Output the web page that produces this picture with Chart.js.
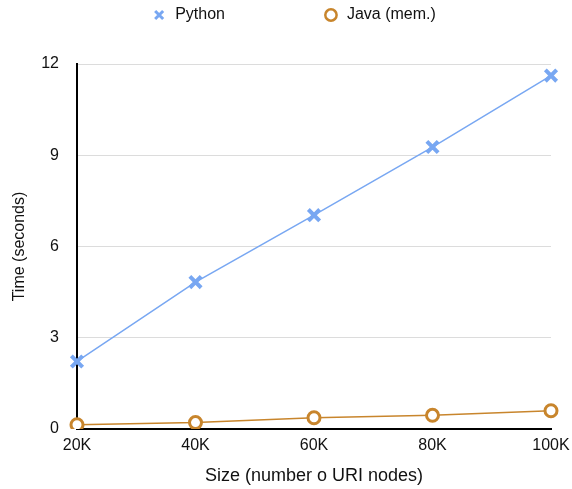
<!DOCTYPE html>
<html>
<head>
<meta charset="utf-8">
<script src="https://cdn.jsdelivr.net/npm/chart.js@4/dist/chart.umd.min.js"></script>
<style>
  html, body { margin: 0; padding: 0; background: #fff; }
  #wrap { width: 572px; height: 489px; position: relative; }
</style>
</head>
<body>
<div id="wrap"><canvas id="c" width="572" height="489"></canvas></div>
<script>
const categories = ['20K', '40K', '60K', '80K', '100K'];
const pythonTimes = [2.22, 4.83, 7.03, 9.27, 11.62];
const javaMemTimes = [0.14, 0.21, 0.37, 0.45, 0.60];
const yTicks = [0, 3, 6, 9, 12];

const BLUE = '#78a7f2';
const ORANGE = '#c8852c';
const FONT = 'Liberation Sans, Arial, Helvetica, sans-serif';

const LEGEND_PAD = 98;
const legendTweak = {
  id: 'legendTweak',
  beforeInit(chart) {
    const lg = chart.legend;
    if (lg && !lg._patched) {
      const orig = lg.fit.bind(lg);
      lg.fit = function () { orig(); this.height = 64 + 91; };
      lg._patched = true;
    }
  },
  afterLayout(chart) {
    const lg = chart.legend;
    lg.left += 18; lg.right += 18;
  }
};

new Chart(document.getElementById('c'), {
  type: 'line',
  data: {
    labels: categories,
    datasets: [
      {
        label: 'Python',
        data: pythonTimes,
        borderColor: BLUE,
        backgroundColor: BLUE,
        borderWidth: 1.5,
        pointStyle: 'crossRot',
        pointRadius: 8,
        pointBorderWidth: 4,
        pointHoverRadius: 8,
        tension: 0
      },
      {
        label: 'Java (mem.)',
        data: javaMemTimes,
        borderColor: ORANGE,
        backgroundColor: '#ffffff',
        borderWidth: 1.5,
        pointStyle: 'circle',
        pointRadius: 6,
        pointBorderWidth: 3,
        pointHoverRadius: 6,
        tension: 0
      }
    ]
  },
  options: {
    responsive: false,
    animation: false,
    layout: { padding: { top: -91, left: 0, right: 21, bottom: 0 } },
    plugins: {
      tooltip: { enabled: false },
      legend: {
        position: 'top',
        labels: {
          usePointStyle: true,
          boxWidth: 16,
          boxHeight: 8,
          padding: LEGEND_PAD,
          color: '#111',
          font: { family: FONT, size: 16 },
          generateLabels(chart) {
            const items = Chart.defaults.plugins.legend.labels.generateLabels(chart);
            items.forEach((it, i) => {
              it.lineWidth = i === 0 ? 3 : 2.5;
              it.strokeStyle = i === 0 ? BLUE : ORANGE;
              it.fillStyle = i === 0 ? BLUE : '#ffffff';
            });
            return items;
          }
        }
      }
    },
    scales: {
      x: {
        type: 'category',
        offset: false,
        grid: { display: false, drawTicks: false },
        border: { display: true, color: '#000', width: 2 },
        ticks: { padding: 7, color: '#111', font: { family: FONT, size: 16 } },
        title: {
          display: true,
          text: 'Size (number o URI nodes)',
          color: '#111',
          font: { family: FONT, size: 18 },
          padding: { top: 2, bottom: 2 }
        },
        afterFit(scale) { scale.height = 60; scale.paddingLeft = 0; scale.paddingRight = 0; }
      },
      y: {
        min: 0,
        max: 12,
        grid: { color: '#dcdcdc', lineWidth: 1, drawTicks: false },
        border: { display: true, color: '#000', width: 2 },
        afterBuildTicks(scale) { scale.ticks = yTicks.map(v => ({ value: v })); },
        ticks: { padding: 18, color: '#111', font: { family: FONT, size: 16 } },
        title: {
          display: true,
          text: 'Time (seconds)',
          color: '#111',
          font: { family: FONT, size: 16 },
          padding: { top: 10, bottom: 0 }
        },
        afterFit(scale) { scale.width = 77; }
      }
    }
  },
  plugins: [legendTweak]
});
</script>
</body>
</html>
